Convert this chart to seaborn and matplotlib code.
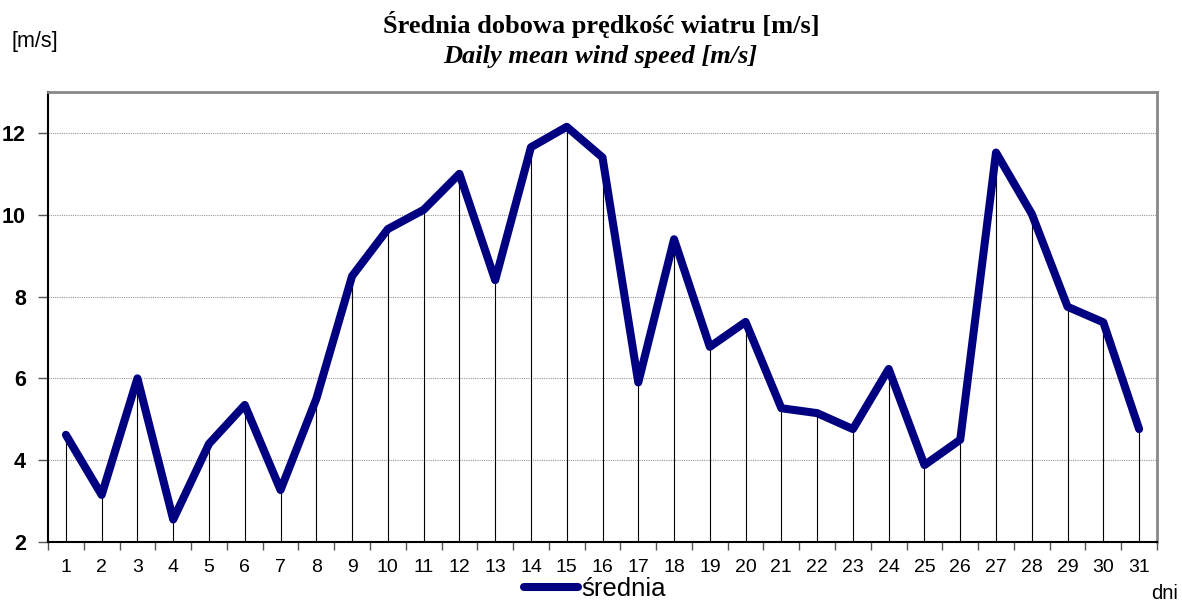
import matplotlib
matplotlib.use("Agg")
import matplotlib.pyplot as plt
import seaborn as sns
import pandas as pd
from matplotlib.lines import Line2D

days = list(range(1, 32))
srednia = [4.62, 3.15, 6.0, 2.55, 4.4, 5.35, 3.27, 5.5, 8.5, 9.65,
           10.12, 11.0, 8.4, 11.65, 12.15, 11.4, 5.9, 9.4, 6.77, 7.38,
           5.27, 5.15, 4.76, 6.23, 3.88, 4.5, 11.52, 10.02, 7.75, 7.37,
           4.76]
y_ticks = [2, 4, 6, 8, 10, 12]

df = pd.DataFrame({"dzien": days, "srednia": srednia})

sns.set_theme(style="white")
plt.rcParams["font.family"] = ["Liberation Sans", "DejaVu Sans"]
plt.rcParams["text.color"] = "black"
plt.rcParams["xtick.color"] = "black"
plt.rcParams["ytick.color"] = "black"
plt.rcParams["xtick.labelcolor"] = "black"
plt.rcParams["ytick.labelcolor"] = "black"

fig = plt.figure(figsize=(11.82, 6.03), dpi=100)
ax = fig.add_axes([48/1182, 61/603, (1157-48)/1182, (542-92)/603])

# drop lines
ax.vlines(df["dzien"], 2, df["srednia"], colors="black", linewidth=0.8, zorder=2)
sns.lineplot(data=df, x="dzien", y="srednia", ax=ax, color="#000080",
             linewidth=5.8, zorder=3, legend=False,
             solid_joinstyle="round", solid_capstyle="round")

ax.set_xlim(0.5, 31.5)
ax.set_ylim(2, 13)
ax.set_yticks(y_ticks)
ax.set_yticklabels([str(v) for v in y_ticks], fontsize=15.5, fontweight="bold", color="black")
ax.set_xticks(days)
ax.set_xticklabels([str(d) for d in days], fontsize=14, color="black")
ax.set_xticks([d + 0.5 for d in range(0, 32)], minor=True)
ax.tick_params(axis="x", which="major", length=0, pad=12)
ax.tick_params(axis="x", which="minor", length=6, width=1, color="#555555", bottom=True, direction="out")
ax.tick_params(axis="y", which="major", length=7, width=1, color="#555555", left=True, direction="out", pad=9)
ax.set_xlabel("")
ax.set_ylabel("")

ax.yaxis.grid(True, linestyle=(0, (1, 1)), color="#999999", linewidth=0.8)
ax.set_axisbelow(True)

for side in ["left", "bottom"]:
    ax.spines[side].set_color("black")
    ax.spines[side].set_linewidth(1.5)
for side in ["top", "right"]:
    ax.spines[side].set_color("#888888")
    ax.spines[side].set_linewidth(2)

fig.text(601/1182, 1 - 33/603, "Średnia dobowa prędkość wiatru [m/s]",
         ha="center", va="baseline", fontsize=19, fontweight="bold", color="black",
         family=["Liberation Serif", "DejaVu Serif"])
fig.text(600/1182, 1 - 63/603, "Daily mean wind speed [m/s]",
         ha="center", va="baseline", fontsize=19, fontweight="bold", style="italic", color="black",
         family=["Liberation Serif", "DejaVu Serif"])
fig.text(12/1182, 1 - 47/603, "[m/s]", ha="left", va="baseline", fontsize=15.5, color="black")
fig.text(1151/1182, 1 - 599/603, "dni", ha="left", va="baseline", fontsize=14.5, color="black")

handle = Line2D([0], [0], color="#000080", linewidth=5.8, solid_capstyle="round")
fig.legend([handle], ["średnia"], loc="center", bbox_to_anchor=(595/1182, 1 - 589/603),
           frameon=False, fontsize=18.5, handlelength=2.1, handletextpad=0.1,
           borderpad=0, borderaxespad=0, labelcolor="black")

fig.savefig("out.png", dpi=100)
